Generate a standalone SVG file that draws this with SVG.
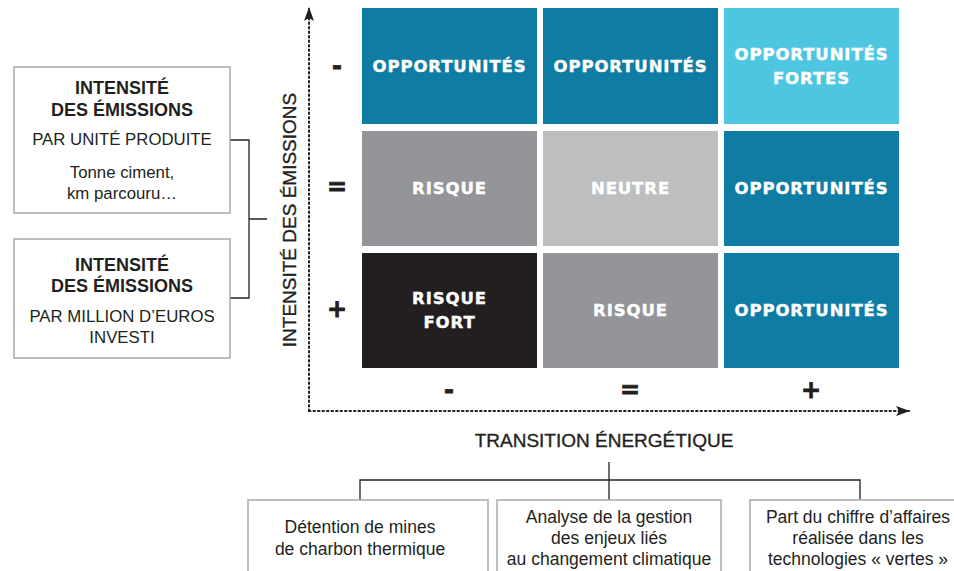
<svg xmlns="http://www.w3.org/2000/svg" width="954" height="571" viewBox="0 0 954 571">
<defs>
<style>
.box{fill:#fff;stroke:#a7a9ac;stroke-width:1.5}
.ln{fill:none;stroke:#231f20;stroke-width:1.3}
.dot{fill:none;stroke:#231f20;stroke-width:2;stroke-dasharray:1.5 3;stroke-linecap:round}
.hd{font-family:'Liberation Sans',Arial,sans-serif;font-weight:bold;font-size:18px;fill:#231f20;text-anchor:middle}
.tx{font-family:'Liberation Sans',Arial,sans-serif;font-size:16.8px;fill:#231f20;text-anchor:middle}
.bt{font-family:'Liberation Sans',Arial,sans-serif;font-size:17.5px;fill:#231f20;text-anchor:middle}
.cl{font-family:'DejaVu Sans','Liberation Sans',sans-serif;font-weight:bold;font-size:16.5px;fill:#fff;stroke:#fff;stroke-width:0.4;text-anchor:middle;letter-spacing:0.9px}
.sg{font-family:'DejaVu Sans','Liberation Sans',sans-serif;font-weight:bold;font-size:24px;fill:#231f20;stroke:#231f20;stroke-width:0.8;text-anchor:middle}
.ax{font-family:'Liberation Sans',Arial,sans-serif;font-size:19px;fill:#231f20;stroke:#231f20;stroke-width:0.35;text-anchor:middle}
</style>
<marker id="ah" markerWidth="14" markerHeight="10" refX="13" refY="5" orient="auto" markerUnits="userSpaceOnUse">
<path d="M0,0 L14,5 L0,10 L3,5 Z" fill="#231f20"/>
</marker>
</defs>

<g id="connectors">
<path class="ln" d="M230,140 H249 V298 H230 M249,219 H267"/>
<path class="ln" d="M609,462 V500 M360,500 V480 H860 V500"/>
<line class="dot" x1="309" y1="411" x2="309" y2="8" marker-end="url(#ah)"/>
<line class="dot" x1="309" y1="411" x2="909" y2="411" marker-end="url(#ah)"/>
</g>

<g id="box-unite">
<rect class="box" x="14" y="67" width="216" height="146"/>
<text class="hd" x="122" y="94">INTENSITÉ</text>
<text class="hd" x="122" y="116">DES ÉMISSIONS</text>
<text class="tx" x="122" y="145">PAR UNITÉ PRODUITE</text>
<text class="tx" x="122" y="178">Tonne ciment,</text>
<text class="tx" x="122" y="199">km parcouru…</text>
</g>
<g id="box-million">
<rect class="box" x="14" y="239" width="216" height="119"/>
<text class="hd" x="122" y="271">INTENSITÉ</text>
<text class="hd" x="122" y="292">DES ÉMISSIONS</text>
<text class="tx" x="122" y="322">PAR MILLION D’EUROS</text>
<text class="tx" x="122" y="343">INVESTI</text>
</g>

<g id="axis-y-label">
<text class="ax" transform="translate(296,220) rotate(-90)">INTENSITÉ DES ÉMISSIONS</text>
</g>
<g id="axis-x-label">
<text class="ax" x="604" y="447">TRANSITION ÉNERGÉTIQUE</text>
</g>

<g id="row-signs">
<text class="sg" x="337" y="74">-</text>
<text class="sg" x="337" y="195">=</text>
<text class="sg" x="337" y="317">+</text>
</g>
<g id="col-signs">
<text class="sg" x="449" y="398">-</text>
<text class="sg" x="630" y="398">=</text>
<text class="sg" x="811" y="398">+</text>
</g>

<g id="c11"><rect x="362" y="8" width="175" height="116" fill="#0f7ca3"/><text class="cl" x="449.5" y="72">OPPORTUNITÉS</text></g>
<g id="c12"><rect x="543" y="8" width="175" height="116" fill="#0f7ca3"/><text class="cl" x="630.5" y="72">OPPORTUNITÉS</text></g>
<g id="c13"><rect x="724" y="8" width="175" height="116" fill="#4ec6e2"/><text class="cl" x="811.5" y="60">OPPORTUNITÉS</text><text class="cl" x="811.5" y="84">FORTES</text></g>
<g id="c21"><rect x="362" y="131" width="175" height="115" fill="#939598"/><text class="cl" x="449.5" y="194">RISQUE</text></g>
<g id="c22"><rect x="543" y="131" width="175" height="115" fill="#bcbec0"/><text class="cl" x="630.5" y="194">NEUTRE</text></g>
<g id="c23"><rect x="724" y="131" width="175" height="115" fill="#0f7ca3"/><text class="cl" x="811.5" y="194">OPPORTUNITÉS</text></g>
<g id="c31"><rect x="362" y="253" width="175" height="115" fill="#231f20"/><text class="cl" x="449.5" y="304">RISQUE</text><text class="cl" x="449.5" y="328">FORT</text></g>
<g id="c32"><rect x="543" y="253" width="175" height="115" fill="#939598"/><text class="cl" x="630.5" y="316">RISQUE</text></g>
<g id="c33"><rect x="724" y="253" width="175" height="115" fill="#0f7ca3"/><text class="cl" x="811.5" y="316">OPPORTUNITÉS</text></g>

<g id="box-charbon">
<rect class="box" x="248" y="500" width="240" height="80"/>
<text class="bt" x="360" y="533">Détention de mines</text>
<text class="bt" x="360" y="555">de charbon thermique</text>
</g>
<g id="box-gestion">
<rect class="box" x="497" y="500" width="224" height="80"/>
<text class="bt" x="609" y="523">Analyse de la gestion</text>
<text class="bt" x="609" y="544">des enjeux liés</text>
<text class="bt" x="609" y="565">au changement climatique</text>
</g>
<g id="box-vertes">
<rect class="box" x="750" y="500" width="220" height="80"/>
<text class="bt" x="858" y="523">Part du chiffre d’affaires</text>
<text class="bt" x="858" y="544">réalisée dans les</text>
<text class="bt" x="858" y="565">technologies « vertes »</text>
</g>
</svg>
